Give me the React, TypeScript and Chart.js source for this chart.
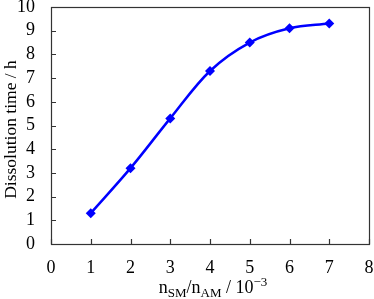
import React, { useEffect, useRef } from "react";
import { Chart, registerables } from "chart.js";

Chart.register(...registerables);

const xValues = [1, 2, 3, 4, 5, 6, 7];
const yValues = [1.3, 3.2, 5.3, 7.3, 8.5, 9.1, 9.3];
const yTitle = "Dissolution time / h";
const FONT = "'Liberation Serif', 'Times New Roman', serif";
const AXIS_COLOR = "#333";

const framePlugin = {
  id: "frame",
  afterDraw(chart: any) {
    const { ctx, chartArea: a, scales } = chart;
    ctx.save();
    ctx.strokeStyle = AXIS_COLOR;
    ctx.lineWidth = 1.2;
    ctx.strokeRect(a.left + 0.5, a.top + 0.5, a.right - a.left, a.bottom - a.top);
    ctx.beginPath();
    const xs = scales.x;
    xs.ticks.forEach((t: any) => {
      const px = Math.round(xs.getPixelForValue(t.value)) + 0.5;
      ctx.moveTo(px, a.bottom);
      ctx.lineTo(px, a.bottom - 5);
    });
    const ys = scales.y;
    ys.ticks.forEach((t: any) => {
      const py = Math.round(ys.getPixelForValue(t.value)) + 0.5;
      ctx.moveTo(a.left, py);
      ctx.lineTo(a.left + 5, py);
    });
    ctx.stroke();

    // x-axis title with sub/superscripts
    const parts: [string, number, number][] = [
      ["n", 18, 0],
      ["SM", 13, 4],
      ["/n", 18, 0],
      ["AM", 13, 4],
      [" / 10", 18, 0],
      ["\u22123", 13, -7],
    ];
    ctx.fillStyle = "#000";
    ctx.textBaseline = "alphabetic";
    ctx.textAlign = "left";
    let total = 0;
    parts.forEach(([s, sz]) => {
      ctx.font = `${sz}px ${FONT}`;
      total += ctx.measureText(s).width;
    });
    let x = (a.left + a.right) / 2 - total / 2 + 3;
    const base = 293;
    parts.forEach(([s, sz, dy]) => {
      ctx.font = `${sz}px ${FONT}`;
      ctx.fillText(s, x, base + dy);
      x += ctx.measureText(s).width;
    });

    // y-axis title
    ctx.translate(16, (a.top + a.bottom) / 2 + 4);
    ctx.rotate(-Math.PI / 2);
    ctx.textAlign = "center";
    ctx.font = `17.5px ${FONT}`;
    ctx.fillText(yTitle, 0, 0);
    ctx.restore();
  },
};

export default function App() {
  const ref = useRef<HTMLCanvasElement>(null);
  useEffect(() => {
    document.body.style.margin = "0";
    const chart = new Chart(ref.current!, {
      type: "line",
      data: {
        datasets: [
          {
            data: xValues.map((x, i) => ({ x, y: yValues[i] })),
            borderColor: "#0000ff",
            backgroundColor: "#0000ff",
            borderWidth: 2.5,
            tension: 0.35,
            pointStyle: "rectRot",
            pointRadius: 5,
            pointBorderWidth: 0,
          },
        ],
      },
      options: {
        animation: false,
        responsive: false,
        layout: { padding: { top: 7, right: 4, left: 0, bottom: 0 } },
        plugins: { legend: { display: false }, tooltip: { enabled: false } },
        scales: {
          x: {
            type: "linear",
            min: 0,
            max: 8,
            afterFit: (s: any) => {
              s.height = 55;
              s.paddingLeft = 0;
              s.paddingRight = 0;
            },
            ticks: {
              stepSize: 1,
              autoSkip: false,
              maxRotation: 0,
              color: "#000",
              padding: 13,
              font: { family: FONT, size: 18 },
            },
            grid: { display: false, drawTicks: false },
            border: { display: false },
          },
          y: {
            min: 0,
            max: 10,
            afterFit: (s: any) => {
              s.width = 51;
              s.paddingTop = 0;
              s.paddingBottom = 0;
            },
            ticks: {
              stepSize: 1,
              autoSkip: false,
              color: "#000",
              padding: 16,
              font: { family: FONT, size: 18 },
            },
            grid: { display: false, drawTicks: false },
            border: { display: false },
          },
        },
      },
      plugins: [framePlugin],
    });
    return () => chart.destroy();
  }, []);
  return <canvas ref={ref} width={374} height={299} style={{ display: "block" }} />;
}
